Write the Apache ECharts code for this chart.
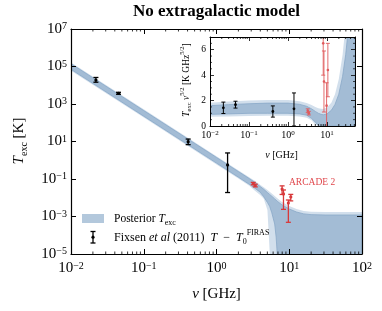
<!DOCTYPE html>
<html><head><meta charset="utf-8">
<script src="https://cdn.jsdelivr.net/npm/echarts@6/dist/echarts.min.js"></script>
<style>html,body{margin:0;padding:0;background:#fff}#c{width:382px;height:311px}</style>
</head><body><div id="c"></div>
<script>
// ---------------- data ----------------
// Fixsen et al (2011) points, main panel [GHz, K]
var fixsenNu = [0.022, 0.045, 0.408, 1.42];
var fixsenT  = [1.9e4, 3.7e3, 9.8, 0.56];
var fixsenLo = [1.45e4, 3.3e3, 6.8, 0.019];
var fixsenHi = [2.6e4, 4.2e3, 13.5, 2.45];
// ARCADE 2 points, main panel
var arcadeNu = [3.20, 3.41, 7.97, 8.33, 9.72, 10.49];
var arcadeT  = [0.057, 0.045, 0.029, 0.016, 0.0052, 0.011];
var arcadeLo = [0.049, 0.038, 0.015, 0.0024, 0.00049, 0.0068];
var arcadeHi = [0.066, 0.053, 0.043, 0.026, 0.0076, 0.0151];
// Posterior bands, main panel (log10 nu, log10 T)
var bandLogNu    = [-2, -1, 0, 0.3, 0.45, 0.52, 0.6, 0.65, 0.7, 0.73, 0.76, 0.8, 0.82, 0.84, 0.9, 1.0, 1.1, 1.2, 1.3, 1.5, 2.0];
var darkUpLog    = [5.15, 2.65, 0.15, -0.6, -0.975, -1.16, -1.4, -1.55, -1.72, -1.82, -1.92, -2.06, -2.13, -2.2, -2.38, -2.6, -2.76, -2.86, -2.9, -2.92, -2.92];
var lightUpLog   = [5.22, 2.72, 0.22, -0.53, -0.9, -1.08, -1.3, -1.44, -1.58, -1.68, -1.77, -1.9, -1.97, -2.04, -2.22, -2.44, -2.6, -2.7, -2.74, -2.76, -2.76];
var darkLoLog    = [4.85, 2.35, -0.15, -0.9, -1.28, -1.47, -1.7, -1.95, -2.25, -2.45, -2.8, -3.4, -4.1, -5.3, -8, -8, -8, -8, -8, -8, -8];
var lightLoLog   = [4.78, 2.28, -0.22, -0.97, -1.36, -1.6, -1.85, -2.05, -2.65, -4.8, -8, -8, -8, -8, -8, -8, -8, -8, -8, -8, -8];
// Inset: T nu^{5/2} [K GHz^{5/2}]
var insFixV  = [1.43, 1.68, 1.14, 1.35];
var insFixLo = [0.98, 1.41, 0.70, 0.0];
var insFixHi = [1.88, 1.95, 1.58, 2.6];
var insArcV  = [1.2, 1.0, 6.5, 3.5, 1.6, 4.4];
var insArcLo = [1.05, 0.87, 4.0, 1.1, -0.2, 2.3];
var insArcHi = [1.35, 1.15, 9.0, 5.9, 3.4, 6.5];
var insNu      = [0.01, 0.03, 0.1, 0.3, 1, 2, 3, 4, 5, 6, 7, 8, 10, 13, 16, 20, 25, 30, 35, 40, 52];
var insDarkUp  = [1.6, 1.68, 1.75, 1.8, 1.8, 1.7, 1.55, 1.35, 1.15, 1.0, 0.92, 0.88, 0.95, 1.25, 1.7, 2.5, 3.9, 5.6, 7.6, 9.5, 12];
var insLightUp = [1.82, 1.92, 2.0, 2.05, 2.05, 1.95, 1.8, 1.65, 1.5, 1.4, 1.35, 1.33, 1.45, 1.85, 2.5, 3.7, 5.6, 8.0, 10, 12, 15];
var insDarkLo  = [0.92, 0.95, 1.0, 1.0, 1.0, 0.95, 0.85, 0.6, 0.3, 0.05, 0, 0, 0, 0, 0, 0, 0, 0, 0, 0, 0];
var insLightLo = [0.72, 0.75, 0.78, 0.8, 0.8, 0.75, 0.65, 0.45, 0.1, 0, 0, 0, 0, 0, 0, 0, 0, 0, 0, 0, 0];
// axis ticks
var mainXDecades = [0.01, 0.1, 1, 10];
var insXDecades = [0.01, 0.1, 1, 10];
var minorMult = [2, 3, 4, 5, 6, 7, 8, 9];
var insYMinor = [0.5, 1, 1.5, 2.5, 3, 3.5, 4.5, 5, 5.5, 6.5];

// ---------------- styling ----------------
var FONT = '"Liberation Serif", "DejaVu Serif", serif';
var DARK = '#a3bcd5', LIGHT = '#d2dfec', DARKEDGE = '#89a8c8';
var RED = '#d8393b';

function pow10(a) { return a.map(function (v) { return Math.pow(10, v); }); }
var bandNu = pow10(bandLogNu);

function logFmt(v) {
  var l = Math.log10(v), e = Math.round(l);
  if (Math.abs(l - e) > 1e-6) return '';
  return '{b|10}{s|' + (e < 0 ? '\u2212' + (-e) : e) + '}';
}
function richFor(big, sup, pad) {
  return {
    b: { fontSize: big, fontFamily: FONT, color: '#000', lineHeight: big, padding: [pad, 0, 0, 0], verticalAlign: 'bottom' },
    s: { fontSize: sup, fontFamily: FONT, color: '#000', lineHeight: sup, verticalAlign: 'top' }
  };
}

function bandSeries(xi, yi, nu, lo, hi, fill, stroke, z) {
  return {
    type: 'custom', xAxisIndex: xi, yAxisIndex: yi, clip: true, silent: true, z: z,
    data: [[nu[0], hi[0]]],
    renderItem: function (params, api) {
      var pts = [], i;
      for (i = 0; i < nu.length; i++) pts.push(api.coord([nu[i], hi[i]]));
      for (i = nu.length - 1; i >= 0; i--) pts.push(api.coord([nu[i], lo[i]]));
      return { type: 'polygon', shape: { points: pts },
        style: { fill: fill, stroke: stroke || null, lineWidth: stroke ? 0.8 : 0 } };
    }
  };
}
function errSeries(xi, yi, nu, v, lo, hi, color, cap, lw, r, z) {
  var data = nu.map(function (n, i) { return [n, v[i], lo[i], hi[i]]; });
  return {
    type: 'custom', xAxisIndex: xi, yAxisIndex: yi, clip: true, silent: true, z: z,
    data: data, encode: { x: 0, y: 1 },
    renderItem: function (params, api) {
      var x = api.value(0);
      var p = api.coord([x, api.value(1)]);
      var a = api.coord([x, api.value(2)]);
      var b = api.coord([x, api.value(3)]);
      var st = { stroke: color, lineWidth: lw };
      return { type: 'group', children: [
        { type: 'line', shape: { x1: p[0], y1: a[1], x2: p[0], y2: b[1] }, style: st },
        { type: 'line', shape: { x1: p[0] - cap, y1: a[1], x2: p[0] + cap, y2: a[1] }, style: st },
        { type: 'line', shape: { x1: p[0] - cap, y1: b[1], x2: p[0] + cap, y2: b[1] }, style: st },
        { type: 'circle', shape: { cx: p[0], cy: p[1], r: r }, style: { fill: color } }
      ] };
    }
  };
}
function minorXSeries(xi, yi, decades, xMax, yMin, yMax, len) {
  var vals = [];
  decades.forEach(function (d) { minorMult.forEach(function (m) { if (m * d < xMax) vals.push([m * d, yMin]); }); });
  return {
    type: 'custom', xAxisIndex: xi, yAxisIndex: yi, silent: true, z: 12, data: vals,
    renderItem: function (params, api) {
      var b = api.coord([api.value(0), yMin]), t = api.coord([api.value(0), yMax]);
      var st = { stroke: '#000', lineWidth: 0.8 };
      return { type: 'group', children: [
        { type: 'line', shape: { x1: b[0], y1: b[1], x2: b[0], y2: b[1] - len }, style: st },
        { type: 'line', shape: { x1: t[0], y1: t[1], x2: t[0], y2: t[1] + len }, style: st }
      ] };
    }
  };
}
function minorYSeries(xi, yi, vals, xMin, xMax, len) {
  return {
    type: 'custom', xAxisIndex: xi, yAxisIndex: yi, silent: true, z: 12,
    data: vals.map(function (v) { return [xMin, v]; }),
    renderItem: function (params, api) {
      var l = api.coord([xMin, api.value(1)]), r = api.coord([xMax, api.value(1)]);
      var st = { stroke: '#000', lineWidth: 0.7 };
      return { type: 'group', children: [
        { type: 'line', shape: { x1: l[0], y1: l[1], x2: l[0] + len, y2: l[1] }, style: st },
        { type: 'line', shape: { x1: r[0], y1: r[1], x2: r[0] - len, y2: r[1] }, style: st }
      ] };
    }
  };
}

function axisBase(extra) {
  var o = {
    axisLine: { show: true, onZero: false, lineStyle: { color: '#000', width: 1.2 } },
    axisTick: { show: true, inside: true, length: 5, lineStyle: { color: '#000', width: 1 } },
    splitLine: { show: false }, z: 10
  };
  for (var k in extra) o[k] = extra[k];
  return o;
}

var chart = echarts.init(document.getElementById('c'), null, { renderer: 'canvas' });
chart.setOption({
  animation: false,
  backgroundColor: '#fff',
  grid: [
    { left: 71, top: 29, width: 291, height: 225, show: false },
    { left: 210, top: 37, width: 145, height: 89, show: true, backgroundColor: '#fff', borderWidth: 0 }
  ],
  xAxis: [
    axisBase({ gridIndex: 0, type: 'log', logBase: 10, min: 0.01, max: 100, position: 'bottom',
      axisLabel: { formatter: logFmt, rich: richFor(15, 10, 7), margin: 7, showMinLabel: true, showMaxLabel: true } }),
    axisBase({ gridIndex: 0, type: 'log', logBase: 10, min: 0.01, max: 100, position: 'top', axisLabel: { show: false } }),
    axisBase({ gridIndex: 1, type: 'log', logBase: 10, min: 0.01, max: 52, position: 'bottom',
      axisLine: { show: true, onZero: false, lineStyle: { color: '#000', width: 1 } },
      axisTick: { show: true, inside: true, length: 4, lineStyle: { color: '#000', width: 0.8 } },
      axisLabel: { formatter: logFmt, rich: richFor(10, 7, 4), margin: 4, showMaxLabel: false } }),
    axisBase({ gridIndex: 1, type: 'log', logBase: 10, min: 0.01, max: 52, position: 'top',
      axisLine: { show: true, onZero: false, lineStyle: { color: '#000', width: 1 } },
      axisTick: { show: true, inside: true, length: 4, lineStyle: { color: '#000', width: 0.8 } },
      axisLabel: { show: false } })
  ],
  yAxis: [
    axisBase({ gridIndex: 0, type: 'log', logBase: 10, min: 1e-5, max: 1e7, interval: 2, position: 'left',
      axisLabel: { formatter: logFmt, rich: richFor(15, 10, 7), margin: 4, showMinLabel: true, showMaxLabel: true } }),
    axisBase({ gridIndex: 0, type: 'log', logBase: 10, min: 1e-5, max: 1e7, interval: 2, position: 'right', axisLabel: { show: false } }),
    axisBase({ gridIndex: 1, type: 'value', min: 0, max: 7, interval: 2, position: 'left',
      axisLine: { show: true, onZero: false, lineStyle: { color: '#000', width: 1 } },
      axisTick: { show: true, inside: true, length: 4, lineStyle: { color: '#000', width: 0.8 } },
      axisLabel: { fontSize: 9.5, fontFamily: FONT, color: '#000', margin: 4, showMaxLabel: false,
        formatter: function (v) { return v % 2 === 0 ? String(v) : ''; } } }),
    axisBase({ gridIndex: 1, type: 'value', min: 0, max: 7, interval: 2, position: 'right',
      axisLine: { show: true, onZero: false, lineStyle: { color: '#000', width: 1 } },
      axisTick: { show: true, inside: true, length: 4, lineStyle: { color: '#000', width: 0.8 } },
      axisLabel: { show: false } })
  ],
  series: [
    bandSeries(0, 0, bandNu, pow10(lightLoLog), pow10(lightUpLog), LIGHT, null, 2),
    bandSeries(0, 0, bandNu, pow10(darkLoLog), pow10(darkUpLog), DARK, DARKEDGE, 3),
    errSeries(0, 0, fixsenNu, fixsenT, fixsenLo, fixsenHi, '#000', 2.5, 1.3, 1.6, 6),
    errSeries(0, 0, arcadeNu, arcadeT, arcadeLo, arcadeHi, RED, 2.5, 1.3, 1.6, 6),
    minorXSeries(0, 0, mainXDecades, 100, 1e-5, 1e7, 2.5),
    bandSeries(2, 2, insNu, insLightLo, insLightUp, LIGHT, null, 2),
    bandSeries(2, 2, insNu, insDarkLo, insDarkUp, DARK, DARKEDGE, 3),
    errSeries(2, 2, fixsenNu, insFixV, insFixLo, insFixHi, '#000', 2, 1, 1.4, 6),
    errSeries(2, 2, arcadeNu, insArcV, insArcLo, insArcHi, '#e05a5c', 2, 0.9, 1.3, 6),
    minorXSeries(2, 2, insXDecades, 52, 0, 7, 2),
    minorYSeries(2, 2, insYMinor, 0.01, 52, 2)
  ],
  graphic: [
    { type: 'text', x: 216.5, y: 12, z: 20, style: { text: 'No extragalactic model', fontFamily: FONT, fontWeight: 'bold', fontSize: 17, fill: '#000', align: 'center', verticalAlign: 'middle' } },
    { type: 'text', x: 216.5, y: 294, z: 20, style: { text: '{i|\u03bd} [GHz]', fontFamily: FONT, fontSize: 15, fill: '#000', align: 'center', verticalAlign: 'middle',
      rich: { i: { fontFamily: FONT, fontSize: 15, fontStyle: 'italic' } } } },
    { type: 'text', x: 19, y: 141, rotation: Math.PI / 2, z: 20, style: { text: '{t|T}{sub|exc}{n| [K]}', align: 'center', verticalAlign: 'middle', fill: '#000',
      rich: { t: { fontFamily: FONT, fontSize: 15, fontStyle: 'italic', lineHeight: 20 },
              sub: { fontFamily: FONT, fontSize: 10, lineHeight: 11, verticalAlign: 'bottom' },
              n: { fontFamily: FONT, fontSize: 15, lineHeight: 20 } } } },
    // legend
    { type: 'rect', shape: { x: 82, y: 214, width: 22, height: 9 }, z: 20, style: { fill: '#b3c8dc' } },
    { type: 'text', x: 114, y: 219, z: 20, style: { text: '{n|Posterior }{i|T}{sub|exc}', verticalAlign: 'middle', fill: '#000',
      rich: { n: { fontFamily: FONT, fontSize: 11.5, lineHeight: 15 }, i: { fontFamily: FONT, fontSize: 11.5, fontStyle: 'italic', lineHeight: 15 },
              sub: { fontFamily: FONT, fontSize: 8, lineHeight: 9, verticalAlign: 'bottom' } } } },
    { type: 'line', shape: { x1: 93, y1: 231.5, x2: 93, y2: 243 }, z: 20, style: { stroke: '#000', lineWidth: 1.3 } },
    { type: 'line', shape: { x1: 90.5, y1: 231.5, x2: 95.5, y2: 231.5 }, z: 20, style: { stroke: '#000', lineWidth: 1.3 } },
    { type: 'line', shape: { x1: 90.5, y1: 243, x2: 95.5, y2: 243 }, z: 20, style: { stroke: '#000', lineWidth: 1.3 } },
    { type: 'circle', shape: { cx: 93, cy: 237.2, r: 1.6 }, z: 20, style: { fill: '#000' } },
    { type: 'text', x: 114, y: 237.5, z: 20, style: { text: '{n|Fixsen }{i|et al}{n| (2011)  }{i|T}{n|  \u2212  }{i|T}{sub|0}{sup|FIRAS}', verticalAlign: 'middle', fill: '#000',
      rich: { n: { fontFamily: FONT, fontSize: 12, lineHeight: 17 }, i: { fontFamily: FONT, fontSize: 12, fontStyle: 'italic', lineHeight: 17 },
              sub: { fontFamily: FONT, fontSize: 8, lineHeight: 8, verticalAlign: 'bottom' },
              sup: { fontFamily: FONT, fontSize: 8, lineHeight: 8, verticalAlign: 'top' } } } },
    { type: 'text', x: 289, y: 182, z: 20, style: { text: 'ARCADE 2', fontFamily: FONT, fontSize: 9.5, fill: '#e0474c', verticalAlign: 'middle' } },
    // inset axis titles
    { type: 'text', x: 281.5, y: 155, z: 20, style: { text: '{i|\u03bd} [GHz]', fontFamily: FONT, fontSize: 10, fill: '#000', align: 'center', verticalAlign: 'middle',
      rich: { i: { fontFamily: FONT, fontSize: 10, fontStyle: 'italic' } } } },
    { type: 'text', x: 186, y: 80, rotation: Math.PI / 2, z: 20, style: { text: '{t|T}{sub|exc}{n| }{t|\u03bd}{sup|5/2}{n| [K GHz}{sup|5/2}{n|]}', align: 'center', verticalAlign: 'middle', fill: '#000',
      rich: { t: { fontFamily: FONT, fontSize: 9.5, fontStyle: 'italic', lineHeight: 14 },
              n: { fontFamily: FONT, fontSize: 9.5, lineHeight: 14 },
              sub: { fontFamily: FONT, fontSize: 6.5, lineHeight: 7, verticalAlign: 'bottom' },
              sup: { fontFamily: FONT, fontSize: 6.5, lineHeight: 7, verticalAlign: 'top' } } } }
  ]
});
</script>
</body></html>
